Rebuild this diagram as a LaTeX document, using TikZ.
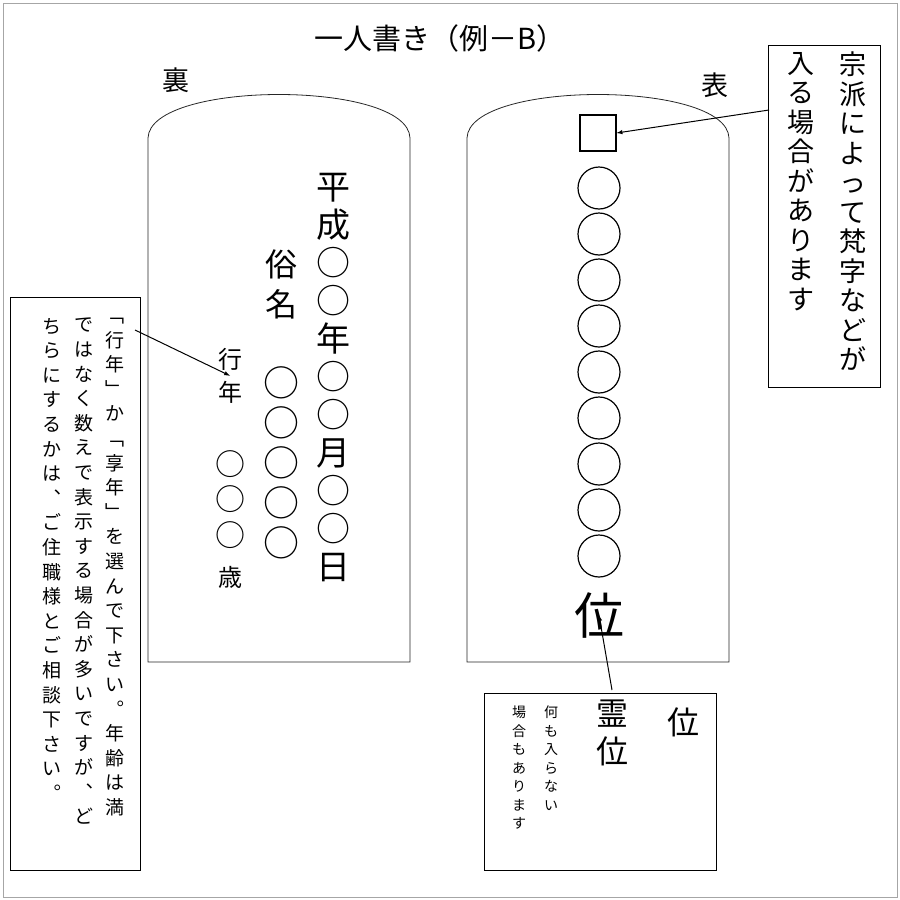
\documentclass[tikz,border=0pt]{standalone}
\usepackage{fontspec}
\setmainfont{Noto Sans CJK JP}
\usetikzlibrary{arrows,positioning}

\newcommand{\fs}[2]{\fontsize{#1}{#2}\selectfont}

\begin{document}
\begin{tikzpicture}[x=1pt, y=-1pt, vcol/.style={align=center, inner sep=0pt, anchor=north},
    circ/.style={circle, draw, minimum size=42pt, inner sep=0pt, line width=1.2pt},
    callout/.style={draw, line width=0.8pt},
    pointer/.style={-latex, line width=1pt}]

\useasboundingbox (0,0) rectangle (900,900);
\draw[gray!70, line width=1pt] (3,3) rectangle (897,897);

% title
\node[font=\fs{29}{29}] (title) at (440,38) {一人書き（例－B）};
\node[font=\fs{27}{27}] (ura) at (176,80) {裏};
\node[font=\fs{27}{27}] (omote) at (715,85) {表};

% tablets
\draw[black!85, line width=0.8pt] (148,662) -- (148,138) .. controls (150,80) and (408,80) .. (410,138) -- (410,662) -- cycle;
\draw[black!85, line width=0.8pt] (467,662) -- (467,138) .. controls (469,80) and (727,80) .. (729,138) -- (729,662) -- cycle;

% back side
\node[vcol, font=\fs{34}{38}] (date) at (333,173) {平\\成\\○\\○\\年\\○\\○\\月\\○\\○\\日};
\node[vcol, font=\fs{32}{40}] (zoku) at (281,250) {俗\\名};
\node[vcol, font=\fs{24}{33}] (gyou) at (230,348) {行\\年};
\node[vcol, font=\fs{36}{40}] (name) at (281,366) {○\\○\\○\\○\\○};
\node[vcol, font=\fs{30}{35.5}] (age) at (230,450) {○\\○\\○};
\node[font=\fs{24}{24}] (sai) at (230,577) {歳};

% front side
\node[draw, line width=1.2pt, minimum size=36pt, inner sep=0pt] (bonji) at (598,133) {};
\foreach \i in {0,...,8}
    \node[circ] (c\i) at (599,188+46*\i) {};
\node[font=\fs{50}{50}] (kurai) at (599,615) {位};

% callout top right
\draw[callout] (768,45) rectangle (880,387);
\node[vcol, font=\fs{27}{29.5}] (shuha) at (853,52) {宗\\派\\に\\よ\\っ\\て\\梵\\字\\な\\ど\\が};
\node[vcol, font=\fs{27}{29.5}] (hairu) at (801,52) {入\\る\\場\\合\\が\\あ\\り\\ま\\す};
\coordinate (shuhaA) at (769,110);
\draw[pointer] (shuhaA) -- (bonji.east);

% callout left
\draw[callout] (10,297) rectangle (140,870);
\node[vcol, font=\fs{19}{24.6}] (l1) at (115,318) {﹁\\行\\年\\﹂\\か\\﹁\\享\\年\\﹂\\を\\選\\ん\\で\\下\\さ\\い\\︒\\年\\齢\\は\\満};
\node[vcol, font=\fs{19}{24.6}] (l2) at (84,318) {で\\は\\な\\く\\数\\え\\で\\表\\示\\す\\る\\場\\合\\が\\多\\い\\で\\す\\が\\︑\\ど};
\node[vcol, font=\fs{19}{24.6}] (l3) at (52,318) {ち\\ら\\に\\す\\る\\か\\は\\︑\\ご\\住\\職\\様\\と\\ご\\相\\談\\下\\さ\\い\\︒};
\coordinate (leftA) at (135,330);
\draw[pointer] (leftA) -- (gyou.center);

% callout bottom right
\draw[callout] (484,693) rectangle (716,870);
\node[font=\fs{32}{32}] (kurai2) at (683,722) {位};
\node[vcol, font=\fs{32}{38}] (reii) at (612,700) {霊\\位};
\node[vcol, font=\fs{14}{18.5}] (nani) at (551,706) {何\\も\\入\\ら\\な\\い};
\node[vcol, font=\fs{14}{18.5}] (baai) at (519,706) {場\\合\\も\\あ\\り\\ま\\す};
\coordinate (bottomA) at (612,690);
\draw[pointer] (bottomA) -- (kurai.center);

\end{tikzpicture}
\end{document}
